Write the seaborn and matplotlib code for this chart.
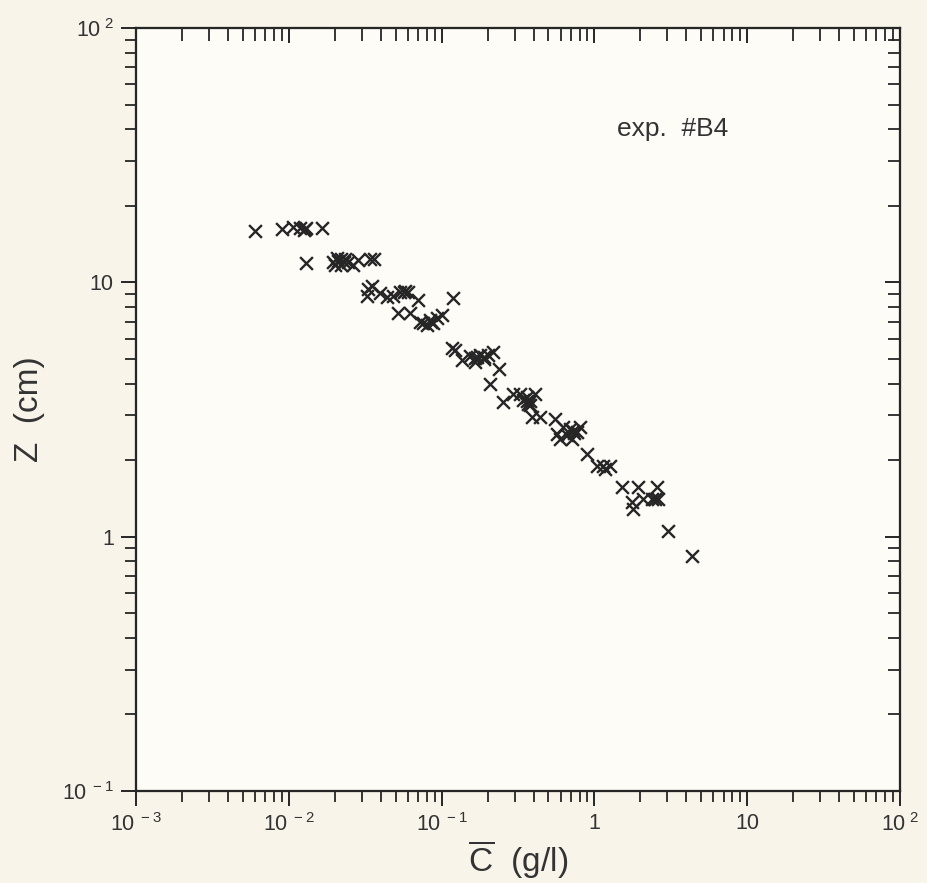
import numpy as np
import pandas as pd
import matplotlib
matplotlib.use("Agg")
import matplotlib.pyplot as plt
from matplotlib.ticker import LogLocator, FixedLocator, NullFormatter
import seaborn as sns

# concentration C (g/l) and height Z (cm)
conc = [
    0.00601, 0.00903, 0.01065, 0.01184, 0.0125, 0.0130, 0.01276, 0.0165,
    0.01296, 0.01947, 0.0200, 0.02067, 0.0210, 0.0220, 0.02196, 0.0230, 0.02332, 0.0244, 0.02632,
    0.02837, 0.0340, 0.0361,
    0.0325, 0.0330, 0.03503, 0.03953, 0.04393, 0.04807, 0.05341, 0.0570, 0.0576, 0.0603, 0.0701, 0.1187,
    0.05185, 0.0621, 0.07223, 0.075, 0.08024, 0.08394, 0.085, 0.088, 0.0933, 0.1006,
    0.117, 0.1224, 0.136, 0.1534, 0.1654, 0.1654, 0.170, 0.1784, 0.1895, 0.190, 0.2012, 0.217, 0.236,
    0.2074,
    0.2522, 0.2933, 0.3259, 0.34, 0.3622, 0.360, 0.3676, 0.38, 0.380, 0.3905, 0.4087, 0.4406,
    0.5523, 0.5692, 0.5954, 0.6229, 0.66, 0.6922, 0.7134, 0.720, 0.73, 0.7694, 0.8049, 0.8945,
    1.04, 1.138, 1.173, 1.265,
    1.516, 1.929, 2.569, 1.762, 1.78, 2.08, 2.382, 2.50, 2.608, 3.031, 4.352,
]
height = [
    15.96, 16.25, 16.55, 16.40, 16.0, 16.3, 16.25, 16.40,
    11.95, 12.06, 11.73, 12.50, 12.1, 12.3, 11.73, 12.0, 12.39, 12.06, 11.73,
    12.28, 12.39, 12.39,
    8.868, 9.448, 9.706, 9.112, 8.788, 8.868, 9.194, 9.2, 9.277, 9.19, 8.554, 8.709,
    7.603, 7.603, 7.010, 6.9, 6.822, 7.138, 7.0, 6.95, 7.268, 7.468,
    5.54, 5.441, 4.972, 5.155, 5.063, 4.85, 5.1, 5.201, 5.108, 5.0, 5.201, 5.344, 4.542,
    3.966,
    3.371, 3.624, 3.624, 3.45, 3.527, 3.4, 3.31, 3.4, 3.3, 2.943, 3.624, 2.943,
    2.89, 2.523, 2.412, 2.689, 2.5, 2.641, 2.412, 2.6, 2.55, 2.57, 2.689, 2.106,
    1.889, 1.889, 1.85, 1.889,
    1.563, 1.563, 1.563, 1.365, 1.28, 1.402, 1.402, 1.4, 1.402, 1.05, 0.8378,
]

x_ticks = [1e-3, 1e-2, 1e-1, 1, 10, 100]
x_ticklabels = [r"$\mathregular{10^{\ -3}}$", r"$\mathregular{10^{\ -2}}$", r"$\mathregular{10^{\ -1}}$",
                "1", "10", r"$\mathregular{10^{\ 2}}$"]
y_ticks = [0.1, 1, 10, 100]
y_ticklabels = [r"$\mathregular{10^{\ -1}}$", "1", "10", r"$\mathregular{10^{\ 2}}$"]

df = pd.DataFrame({"C": conc, "Z": height})

sns.set_style("ticks")
plt.rcParams["font.family"] = ["Liberation Sans", "DejaVu Sans"]
plt.rcParams["mathtext.fontset"] = "custom"
plt.rcParams["mathtext.rm"] = "Liberation Sans"
plt.rcParams["mathtext.it"] = "Liberation Sans:italic"

ink = "#262626"
fig = plt.figure(figsize=(9.28, 8.83), dpi=100, facecolor="#f8f4ea")
ax = fig.add_axes([0.1466, 0.1042, 0.8232, 0.8641])
ax.set_facecolor("#fdfcf7")

sns.scatterplot(data=df, x="C", y="Z", marker="x", s=85, color=ink,
                linewidth=1.7, ax=ax, legend=False)

ax.set_xscale("log")
ax.set_yscale("log")
ax.set_xlim(1e-3, 1e2)
ax.set_ylim(1e-1, 1e2)

ax.xaxis.set_major_locator(FixedLocator(x_ticks))
ax.set_xticklabels(x_ticklabels)
ax.yaxis.set_major_locator(FixedLocator(y_ticks))
ax.set_yticklabels(y_ticklabels)
ax.xaxis.set_minor_locator(LogLocator(base=10, subs=np.arange(2, 10), numticks=20))
ax.yaxis.set_minor_locator(LogLocator(base=10, subs=np.arange(2, 10), numticks=20))
ax.xaxis.set_minor_formatter(NullFormatter())
ax.yaxis.set_minor_formatter(NullFormatter())

for side in ax.spines.values():
    side.set_linewidth(1.5)
    side.set_color(ink)

ax.tick_params(which="major", direction="out", length=11, width=1.4, color=ink,
               labelsize=15.5, labelcolor="#333333", pad=5)
ax.tick_params(which="minor", direction="out", length=8, width=1.3, color=ink)

# top and right edges carry their ticks pointing into the frame
ax_top = ax.twiny()
ax_top.set_xscale("log")
ax_top.set_xlim(ax.get_xlim())
ax_top.xaxis.set_major_locator(FixedLocator(x_ticks))
ax_top.xaxis.set_minor_locator(LogLocator(base=10, subs=np.arange(2, 10), numticks=20))
ax_top.tick_params(which="major", direction="in", length=11, width=1.4, color=ink,
                   labeltop=False)
ax_top.tick_params(which="minor", direction="in", length=9, width=1.3, color=ink)
ax_top.xaxis.set_minor_formatter(NullFormatter())

ax_right = ax.twinx()
ax_right.set_yscale("log")
ax_right.set_ylim(ax.get_ylim())
ax_right.yaxis.set_major_locator(FixedLocator(y_ticks))
ax_right.yaxis.set_minor_locator(LogLocator(base=10, subs=np.arange(2, 10), numticks=20))
ax_right.tick_params(which="major", direction="in", length=11, width=1.4, color=ink,
                     labelright=False)
ax_right.tick_params(which="minor", direction="in", length=9, width=1.3, color=ink)
ax_right.yaxis.set_minor_formatter(NullFormatter())
for a in (ax_top, ax_right):
    for side in a.spines.values():
        side.set_linewidth(1.5)
        side.set_color(ink)

ax.set_xlabel(r"$\overline{\mathrm{C}}$  (g/l)", fontsize=24, color="#333333", labelpad=2)
ax.set_ylabel("Z  (cm)", fontsize=24, color="#333333", labelpad=12)

ax.text(0.63, 0.868, "exp.  #B4", transform=ax.transAxes, fontsize=19,
        color="#333333", va="center", ha="left")

fig.savefig("out.png", dpi=100, facecolor=fig.get_facecolor())
plt.close(fig)
